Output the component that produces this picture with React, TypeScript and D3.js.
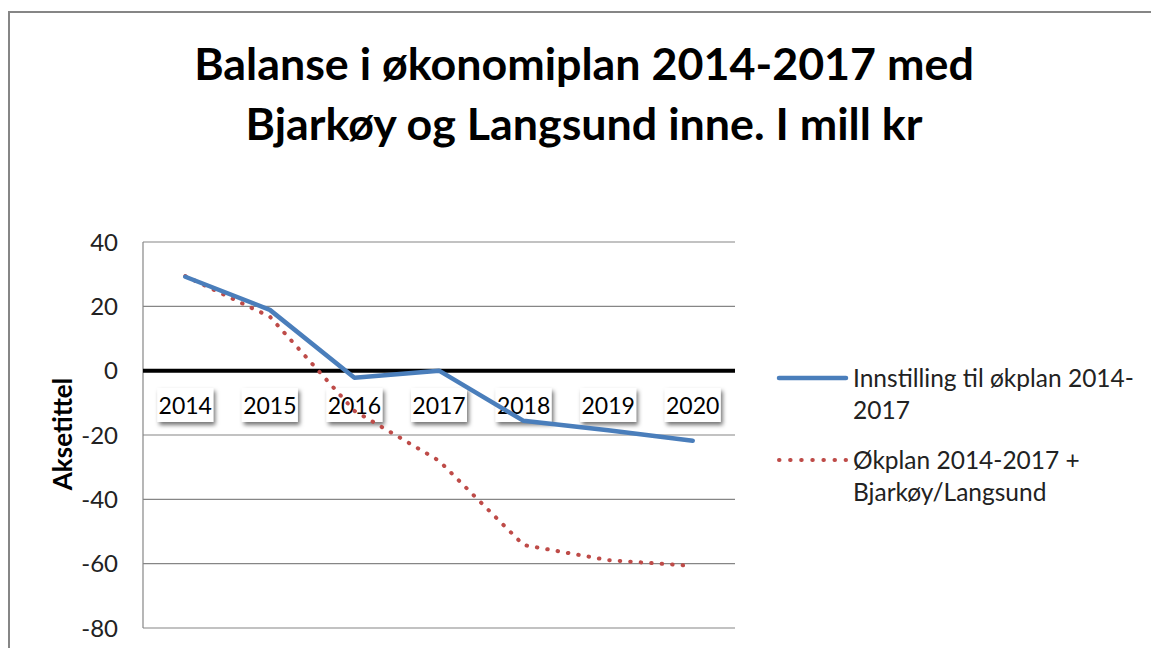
import React, { useEffect, useRef } from 'react';
import * as d3 from 'd3';

const years = ['2014', '2015', '2016', '2017', '2018', '2019', '2020'];
const innstilling = [29.2, 18.9, -2.2, 0.0, -15.6, -18.5, -21.8];
const okplanBjarkoy = [29.4, 16.8, -12.5, -28.0, -54.2, -58.9, -60.7];
const yTicks = [40, 20, 0, -20, -40, -60, -80];
const titleLines = ['Balanse i økonomiplan 2014-2017 med', 'Bjarkøy og Langsund inne. I mill kr'];
const legendBlue = ['Innstilling til økplan 2014-', '2017'];
const legendRed = ['Økplan 2014-2017 +', 'Bjarkøy/Langsund'];

const W = 1151;
const H = 648;
const FONT = 'Lato, "Open Sans", sans-serif';

export default function App() {
  const ref = useRef<SVGSVGElement>(null);

  useEffect(() => {
    const svg = d3.select(ref.current);
    svg.selectAll('*').remove();

    const plot = { left: 143, right: 735, top: 242, bottom: 628 };

    const x = d3.scalePoint<string>()
      .domain(years)
      .range([plot.left, plot.right])
      .padding(0.5);

    const y = d3.scaleLinear()
      .domain([-80, 40])
      .range([plot.bottom, plot.top]);

    const defs = svg.append('defs');
    defs.append('filter')
      .attr('id', 'shadow')
      .attr('x', '-20%').attr('y', '-20%')
      .attr('width', '150%').attr('height', '160%')
      .append('feDropShadow')
      .attr('dx', 2).attr('dy', 3)
      .attr('stdDeviation', 2)
      .attr('flood-color', '#000')
      .attr('flood-opacity', 0.55);

    // outer chart border (runs off the page right and bottom)
    svg.append('rect')
      .attr('x', 9).attr('y', 12)
      .attr('width', 1300).attr('height', 800)
      .attr('fill', '#fff')
      .attr('stroke', '#868686')
      .attr('stroke-width', 2);

    // title
    svg.append('text')
      .attr('text-anchor', 'middle')
      .attr('font-family', FONT)
      .attr('font-weight', 700)
      .attr('font-size', 44.8)
      .attr('fill', '#000')
      .selectAll('tspan')
      .data(titleLines)
      .join('tspan')
      .attr('x', 584)
      .attr('y', (d, i) => 80 + i * 60)
      .text(d => d);

    // gridlines
    svg.append('g')
      .selectAll('line')
      .data(yTicks.filter(t => t !== 0))
      .join('line')
      .attr('x1', plot.left).attr('x2', plot.right)
      .attr('y1', d => y(d)).attr('y2', d => y(d))
      .attr('stroke', '#868686')
      .attr('stroke-width', 1.2);

    // value axis line
    svg.append('line')
      .attr('x1', plot.left).attr('x2', plot.left)
      .attr('y1', plot.top).attr('y2', plot.bottom)
      .attr('stroke', '#868686')
      .attr('stroke-width', 1.2);

    // y tick labels
    svg.append('g')
      .selectAll('text')
      .data(yTicks)
      .join('text')
      .attr('x', 118)
      .attr('y', d => y(d))
      .attr('dy', '0.36em')
      .attr('text-anchor', 'end')
      .attr('font-family', FONT)
      .attr('font-size', 24)
      .attr('fill', '#222')
      .text(d => d);

    // y axis title
    svg.append('text')
      .attr('transform', 'translate(72,434) rotate(-90)')
      .attr('text-anchor', 'middle')
      .attr('font-family', FONT)
      .attr('font-weight', 700)
      .attr('font-size', 26)
      .attr('fill', '#000')
      .text('Aksetittel');

    // zero line (category axis)
    svg.append('line')
      .attr('x1', plot.left).attr('x2', plot.right)
      .attr('y1', y(0)).attr('y2', y(0))
      .attr('stroke', '#000')
      .attr('stroke-width', 4);

    // category labels in shadowed boxes
    const cat = svg.append('g')
      .selectAll('g')
      .data(years)
      .join('g')
      .attr('transform', d => `translate(${x(d)},0)`);

    const boxW = 56;
    cat.append('rect')
      .attr('x', -boxW / 2)
      .attr('y', 388)
      .attr('width', boxW)
      .attr('height', 34)
      .attr('fill', '#fff')
      .attr('filter', 'url(#shadow)');

    cat.append('text')
      .attr('y', 414)
      .attr('text-anchor', 'middle')
      .attr('font-family', FONT)
      .attr('font-size', 23)
      .attr('fill', '#000')
      .text(d => d);

    const line = d3.line<number>()
      .x((d, i) => x(years[i]) as number)
      .y(d => y(d));

    svg.append('path')
      .datum(okplanBjarkoy)
      .attr('fill', 'none')
      .attr('stroke', '#BE4B48')
      .attr('stroke-width', 4)
      .attr('stroke-linecap', 'round')
      .attr('stroke-dasharray', '0.5,10')
      .attr('d', line);

    svg.append('path')
      .datum(innstilling)
      .attr('fill', 'none')
      .attr('stroke', '#4A7EBB')
      .attr('stroke-width', 4.5)
      .attr('stroke-linecap', 'round')
      .attr('stroke-linejoin', 'round')
      .attr('d', line);

    // legend
    const legend = svg.append('g');
    const items = [
      { lines: legendBlue, y0: 378, color: '#4A7EBB', dash: null, width: 4.5 },
      { lines: legendRed, y0: 460, color: '#BE4B48', dash: '0.5,10.6', width: 4 },
    ];
    items.forEach(it => {
      legend.append('line')
        .attr('x1', 779).attr('x2', 846)
        .attr('y1', it.y0).attr('y2', it.y0)
        .attr('stroke', it.color)
        .attr('stroke-width', it.width)
        .attr('stroke-linecap', 'round')
        .attr('stroke-dasharray', it.dash);
      legend.append('text')
        .attr('font-family', FONT)
        .attr('font-size', 24.5)
        .attr('fill', '#222')
        .selectAll('tspan')
        .data(it.lines)
        .join('tspan')
        .attr('x', 853)
        .attr('y', (d, i) => it.y0 + 9 + i * 32)
        .text(d => d);
    });
  }, []);

  return (
    <svg
      ref={ref}
      width={W}
      height={H}
      style={{ position: 'absolute', left: 0, top: 0, background: '#fff' }}
    />
  );
}
